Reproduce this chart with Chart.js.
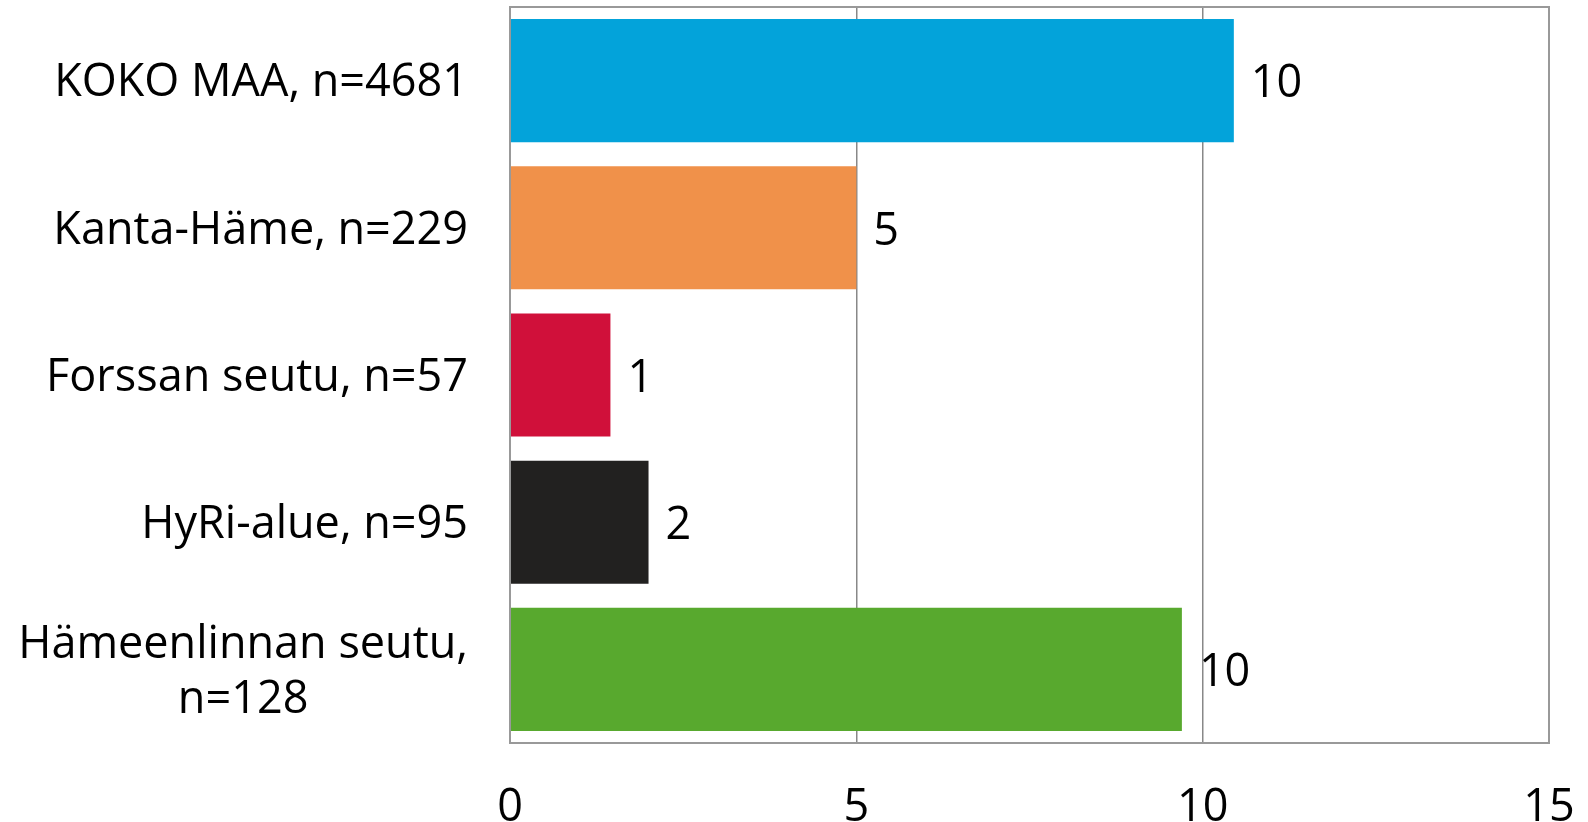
<!DOCTYPE html>
<html>
<head>
<meta charset="utf-8">
<script src="https://cdn.jsdelivr.net/npm/chart.js@4/dist/chart.umd.min.js"></script>
<style>
html, body { margin: 0; padding: 0; overflow: hidden; background: #fff; }
#wrap { width: 1588px; height: 873px; position: relative; }
</style>
</head>
<body>
<div id="wrap"><canvas id="chart"></canvas></div>
<script>
const categories = [
    ['KOKO MAA, n=4681'],
    ['Kanta-Häme, n=229'],
    ['Forssan seutu, n=57'],
    ['HyRi-alue, n=95'],
    ['Hämeenlinnan seutu,', 'n=128']
];
const values = [10.45, 5.0, 1.45, 2.0, 9.7];
const barColors = ['#03a3da', '#f0914a', '#d0103a', '#222120', '#58a92e'];
const xTicks = [0, 5, 10, 15];

const FONT = '"Open Sans", "DejaVu Sans", sans-serif';
const FONT_SIZE = 45;

// category names, right aligned, multi-line ones centred on their widest line
const categoryLabels = {
    id: 'categoryLabels',
    afterDraw(chart) {
        const ctx = chart.ctx;
        const yScale = chart.scales.y;
        const right = chart.chartArea.left - 42;
        ctx.save();
        ctx.font = FONT_SIZE + 'px ' + FONT;
        ctx.fillStyle = '#000';
        ctx.textAlign = 'center';
        ctx.textBaseline = 'middle';
        const lh = FONT_SIZE * 1.22;
        categories.forEach((lines, i) => {
            const y = yScale.getPixelForValue(i) + 3;
            const maxW = Math.max(...lines.map(l => ctx.measureText(l).width));
            const cx = right - maxW / 2;
            lines.forEach((l, j) => {
                ctx.fillText(l, cx, y + (j - (lines.length - 1) / 2) * lh);
            });
        });
        ctx.restore();
    }
};

const valueLabels = {
    id: 'valueLabels',
    afterDatasetsDraw(chart) {
        const ctx = chart.ctx;
        const meta = chart.getDatasetMeta(0);
        ctx.save();
        ctx.font = FONT_SIZE + 'px ' + FONT;
        ctx.fillStyle = '#000';
        ctx.textAlign = 'left';
        ctx.textBaseline = 'middle';
        meta.data.forEach((bar, i) => {
            ctx.fillText(String(Math.round(values[i])), bar.x + 17, bar.y + 4);
        });
        ctx.restore();
    }
};

const frame = {
    id: 'frame',
    afterDatasetsDraw(chart) {
        const a = chart.chartArea;
        const ctx = chart.ctx;
        ctx.save();
        ctx.strokeStyle = '#999';
        ctx.lineWidth = 2;
        ctx.strokeRect(a.left, a.top, a.right - a.left, a.bottom - a.top);
        ctx.restore();
    }
};

const ctx = document.getElementById('chart').getContext('2d');
const chart = new Chart(ctx, {
    type: 'bar',
    data: {
        labels: categories,
        datasets: [{
            data: values,
            backgroundColor: barColors,
            borderWidth: 0,
            categoryPercentage: 1,
            barPercentage: 0.836
        }]
    },
    options: {
        indexAxis: 'y',
        responsive: true,
        maintainAspectRatio: false,
        animation: false,
        layout: { padding: { left: 510, top: 7, right: 39, bottom: 0 } },
        plugins: {
            legend: { display: false },
            tooltip: { enabled: false }
        },
        scales: {
            x: {
                min: xTicks[0],
                max: xTicks[xTicks.length - 1],
                afterFit(scale) {
                    scale.paddingLeft = 0;
                    scale.paddingRight = 0;
                },
                ticks: {
                    stepSize: xTicks[1] - xTicks[0],
                    color: '#000',
                    padding: 38,
                    font: { family: FONT, size: FONT_SIZE }
                },
                grid: { color: '#888', lineWidth: 1.5, drawTicks: false },
                border: { display: false }
            },
            y: {
                display: false
            }
        }
    },
    plugins: [categoryLabels, valueLabels, frame]
});
</script>
</body>
</html>
